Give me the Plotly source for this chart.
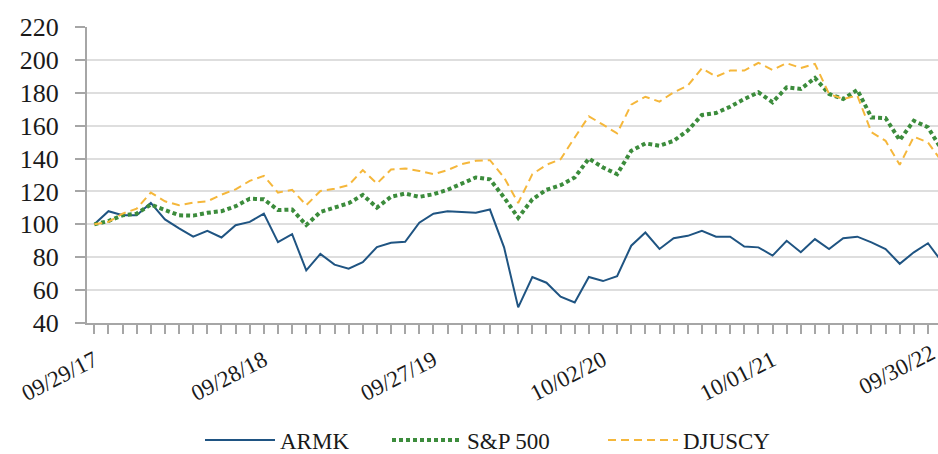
import plotly.graph_objects as go

months = list(range(61))
tick_idx = [0, 12, 24, 36, 48, 60]
tick_labels = ["09/29/17", "09/28/18", "09/27/19", "10/02/20", "10/01/21", "09/30/22"]

armk = [100, 108, 105.5, 105.5, 113, 103, 97.5, 92.5, 96, 92, 99.5, 101.5, 106.5, 89.2, 94,
        72, 82, 75.5, 73, 77, 86.2, 88.8, 89.4, 101, 106.5, 108, 107.5, 107, 109, 86,
        49.5, 68, 64.5, 56, 52.5, 68, 65.5, 68.5, 87, 95, 85, 91.5, 93, 96, 92.5,
        92.5, 86.5, 86, 81, 90, 83, 91, 85, 91.5, 92.5, 89, 85, 76, 83, 88.5, 77]
sp500 = [100, 102, 105.5, 106.5, 112, 108.5, 105.5, 105.3, 107, 108, 111, 115.6, 115.2, 108.7, 109,
         99.6, 107.5, 110.2, 112.8, 117.9, 110.2, 116.8, 118.7, 116.7, 118.3, 121, 124.8, 128.5, 127.4, 116.3,
         104, 115.2, 121, 123.8, 128.5, 140, 134.6, 130.5, 144.7, 149.2, 147.8, 150.8, 157, 166.5, 167.7,
         171.5, 176.2, 180.3, 174.2, 183.3, 182.3, 189, 179.3, 176.2, 181.7, 165, 164.6, 151.2, 163, 159, 145]
djuscy = [100, 101.5, 106.5, 109.5, 119.3, 114, 111.6, 113.2, 114, 118, 121.3, 126.4, 129.5, 119.3, 121,
          111.6, 120.3, 121.7, 123.8, 133, 124.8, 133.3, 134, 132.5, 130.5, 133, 136.6, 138.6, 139, 128.5,
          113, 130.5, 136.2, 139.6, 152.8, 165.7, 160.6, 155.3, 172.8, 177.6, 174.6, 180.3, 184.3, 194.9, 189.8,
          193.5, 193.5, 198.2, 193.9, 198, 195.1, 197.6, 179.3, 176.2, 178.3, 156, 150.8, 136.2, 153.3, 149.8, 138]

FONT = "Liberation Serif"
TXT = "#1a1a1a"
AXIS_GRAY = "#a6a6a6"
X_RANGE = [-0.517, 59.71]
W, H = 938, 454

fig = go.Figure()
fig.add_trace(go.Scatter(x=months, y=armk, name="ARMK", mode="lines", legend="legend",
                         line=dict(color="#1f5482", width=2)))
fig.add_trace(go.Scatter(x=months, y=sp500, name="S&P 500", mode="lines", legend="legend2",
                         line=dict(color="#3c8c3c", width=4, dash="4px,3px")))
fig.add_trace(go.Scatter(x=months, y=djuscy, name="DJUSCY", mode="lines", legend="legend3",
                         line=dict(color="#f5b73b", width=2, dash="8px,5px")))

def leg(xpx):
    return dict(orientation="h", xref="container", yref="container",
                x=xpx / W, y=(H - 440) / H, xanchor="left", yanchor="middle",
                font=dict(family=FONT, size=23, color=TXT), itemwidth=70,
                bgcolor="rgba(0,0,0,0)")

fig.update_layout(
    width=W, height=H,
    margin=dict(l=87, r=0, t=27, b=131),
    paper_bgcolor="white", plot_bgcolor="white",
    font=dict(family=FONT, size=22, color=TXT),
    showlegend=True,
    legend=leg(200), legend2=leg(387), legend3=leg(603),
    xaxis=dict(range=X_RANGE, tickmode="array", tickvals=tick_idx, ticktext=tick_labels,
               tickangle=-27, ticks="outside", ticklen=9, tickwidth=1.5, tickcolor=AXIS_GRAY,
               showline=True, linecolor=AXIS_GRAY, linewidth=2, showgrid=False, zeroline=False,
               ticklabelstandoff=4,
               minor=dict(dtick=1, tick0=0, ticks="outside", ticklen=9, tickwidth=1.5, tickcolor=AXIS_GRAY,
                          showgrid=False),
               tickfont=dict(family=FONT, size=23, color=TXT)),
    yaxis=dict(range=[40, 220], dtick=20, tick0=40, ticks="outside", ticklen=10, tickwidth=1.5,
               tickcolor=AXIS_GRAY, showline=True, linecolor=AXIS_GRAY, linewidth=2,
               showgrid=True, gridcolor="#dedede", gridwidth=1.5, zeroline=False,
               ticklabelstandoff=11,
               tickfont=dict(family=FONT, size=26, color=TXT)),
)

# label of the last tick lies beyond the cropped right edge of the plot
last_x = (tick_idx[-1] - X_RANGE[0]) / (X_RANGE[1] - X_RANGE[0])
fig.add_annotation(x=last_x, xref="paper", y=0, yref="paper", text=tick_labels[-1],
                   showarrow=False, textangle=-27, xanchor="right", yanchor="top",
                   yshift=-14, font=dict(family=FONT, size=23, color=TXT))

fig.write_html("out.html", config={"displayModeBar": False},
               post_script="document.body.style.margin='0';document.body.style.overflow='hidden';")
